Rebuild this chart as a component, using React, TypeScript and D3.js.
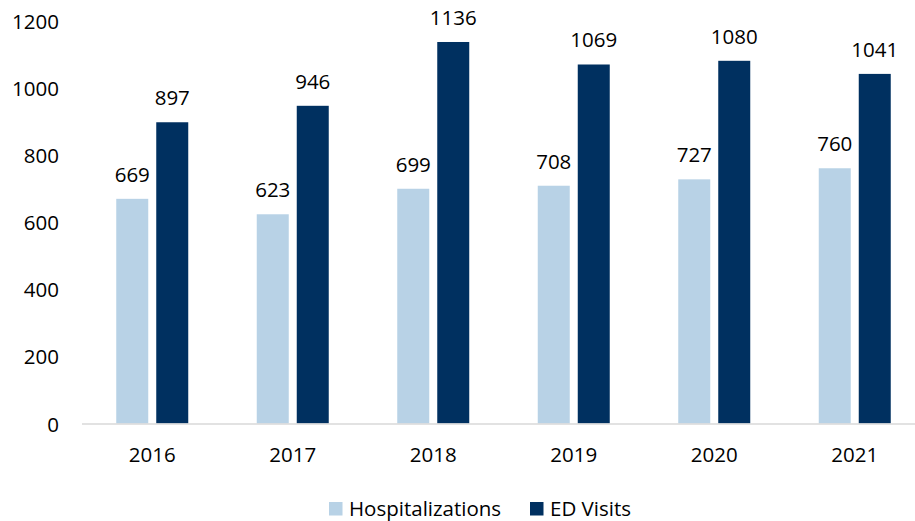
import React from "react";
import * as d3 from "d3";

const years = ["2016", "2017", "2018", "2019", "2020", "2021"];
const hospitalizations = [669, 623, 699, 708, 727, 760];
const edVisits = [897, 946, 1136, 1069, 1080, 1041];
const yTicks = [0, 200, 400, 600, 800, 1000, 1200];
const seriesNames = ["Hospitalizations", "ED Visits"];
const colors = ["#b8d2e6", "#003060"];

const W = 915;
const H = 521;
const FONT = "'Open Sans', 'Liberation Sans', sans-serif";
const FS = 20.5;

export default function App() {
  const x = d3.scaleBand<string>().domain(years).range([82, 925]).paddingInner(0).paddingOuter(0);
  const y = d3.scaleLinear().domain([0, 1200]).range([423.5, 20.5]);
  const step = x.step();
  const barW = 32;
  const gap = 8;
  const series = [hospitalizations, edVisits];

  return (
    <svg width={W} height={H} style={{ position: "absolute", left: 0, top: 0, background: "#fff" }} fontFamily={FONT}>
      {yTicks.map((t) => (
        <text key={t} x={59} y={y(t)} textAnchor="end" dominantBaseline="central" fontSize={FS} fill="#000">
          {t}
        </text>
      ))}
      {years.map((yr, i) => {
        const cx = (x(yr) as number) + step / 2;
        return (
          <g key={yr}>
            {series.map((s, k) => {
              const bx = cx - gap / 2 - barW + k * (barW + gap);
              const v = s[i];
              return (
                <g key={k}>
                  <rect x={bx} y={y(v)} width={barW} height={y(0) - y(v)} fill={colors[k]} />
                  <text x={bx + barW / 2} y={y(v) - 25} textAnchor="middle" dominantBaseline="central" fontSize={FS} fill="#000">
                    {v}
                  </text>
                </g>
              );
            })}
            <text x={cx} y={454} textAnchor="middle" dominantBaseline="central" fontSize={FS} fill="#000">
              {yr}
            </text>
          </g>
        );
      })}
      <line x1={82} x2={W} y1={y(0) + 0.5} y2={y(0) + 0.5} stroke="#d9d9d9" strokeWidth={1.5} />
      {seriesNames.map((n, k) => {
        const lx = k === 0 ? 329 : 530;
        return (
          <g key={n}>
            <rect x={lx} y={502} width={13.5} height={13.5} fill={colors[k]} />
            <text x={lx + 20} y={508} dominantBaseline="central" fontSize={FS} fill="#000">
              {n}
            </text>
          </g>
        );
      })}
    </svg>
  );
}
